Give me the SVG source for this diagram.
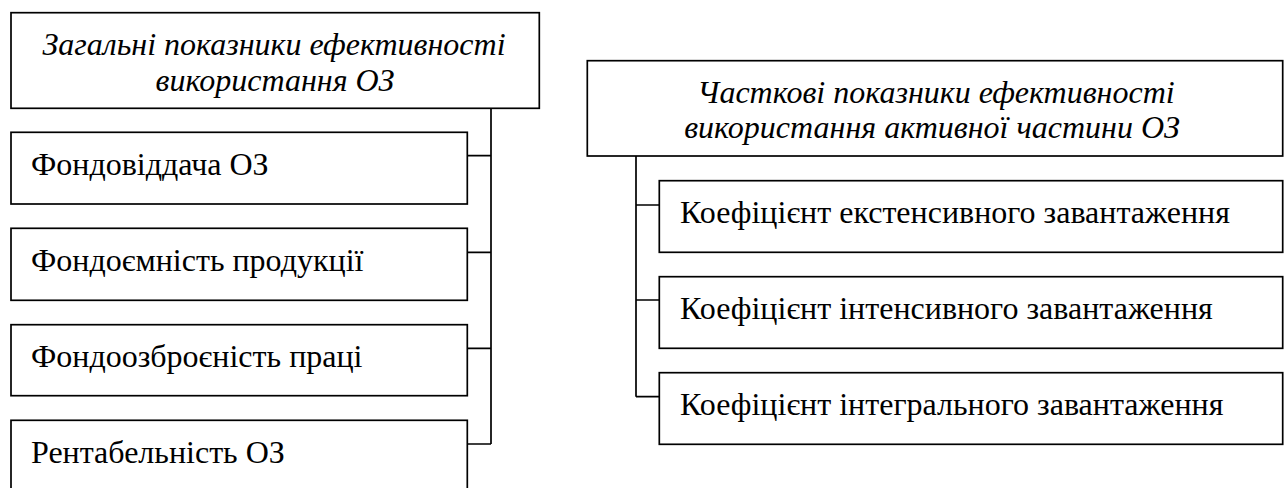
<svg xmlns="http://www.w3.org/2000/svg" width="1284" height="488" viewBox="0 0 1284 488">
<style>
.box{fill:#fff;stroke:#000;stroke-width:1.7}
.conn{fill:none;stroke:#000;stroke-width:1.7}
text{font-size:32px;fill:#000}
.ti{font-style:italic;text-anchor:middle}
</style>
<rect width="1284" height="488" fill="#fff"/>
<g id="connectors">
<path class="conn" d="M491,108 V444 M467.3,155.7 H491 M467.3,252.3 H491 M467.3,348.3 H491 M467.3,444 H491"/>
<path class="conn" d="M636,156 V396.7 M636,205 H659.3 M636,300 H659.3 M636,396.7 H659.3"/>
</g>
<g font-family="'Liberation Serif', 'DejaVu Serif', serif">
<g id="general">
<rect class="box" x="11" y="12.7" width="528.3" height="95.6"/>
<text class="ti" x="274" y="55">Загальні показники ефективності</text>
<text class="ti" x="275" y="91">використання ОЗ</text>
</g>
<g id="fondovidd">
<rect class="box" x="11" y="132.3" width="456.3" height="71.7"/>
<text x="31" y="175">Фондовіддача ОЗ</text>
</g>
<g id="fondoemn">
<rect class="box" x="11" y="228.3" width="456.3" height="72"/>
<text x="31" y="271">Фондоємність продукції</text>
</g>
<g id="fondoozbr">
<rect class="box" x="11" y="324.7" width="456.3" height="71"/>
<text x="31" y="367">Фондоозброєність праці</text>
</g>
<g id="rentab">
<rect class="box" x="11" y="420.3" width="456.3" height="72"/>
<text x="31" y="463">Рентабельність ОЗ</text>
</g>
<g id="partial">
<rect class="box" x="587.3" y="60.7" width="695.4" height="95.3"/>
<text class="ti" x="936" y="103">Часткові показники ефективності</text>
<text class="ti" x="932" y="138">використання активної частини ОЗ</text>
</g>
<g id="kext">
<rect class="box" x="659.3" y="180.7" width="623.4" height="71.6"/>
<text x="680" y="222.5">Коефіцієнт екстенсивного завантаження</text>
</g>
<g id="kint">
<rect class="box" x="659.3" y="276.7" width="623.4" height="71.6"/>
<text x="680" y="318.5">Коефіцієнт інтенсивного завантаження</text>
</g>
<g id="kintegr">
<rect class="box" x="659.3" y="372.7" width="623.4" height="71.6"/>
<text x="680" y="414.5">Коефіцієнт інтегрального завантаження</text>
</g>
</g>
</svg>
